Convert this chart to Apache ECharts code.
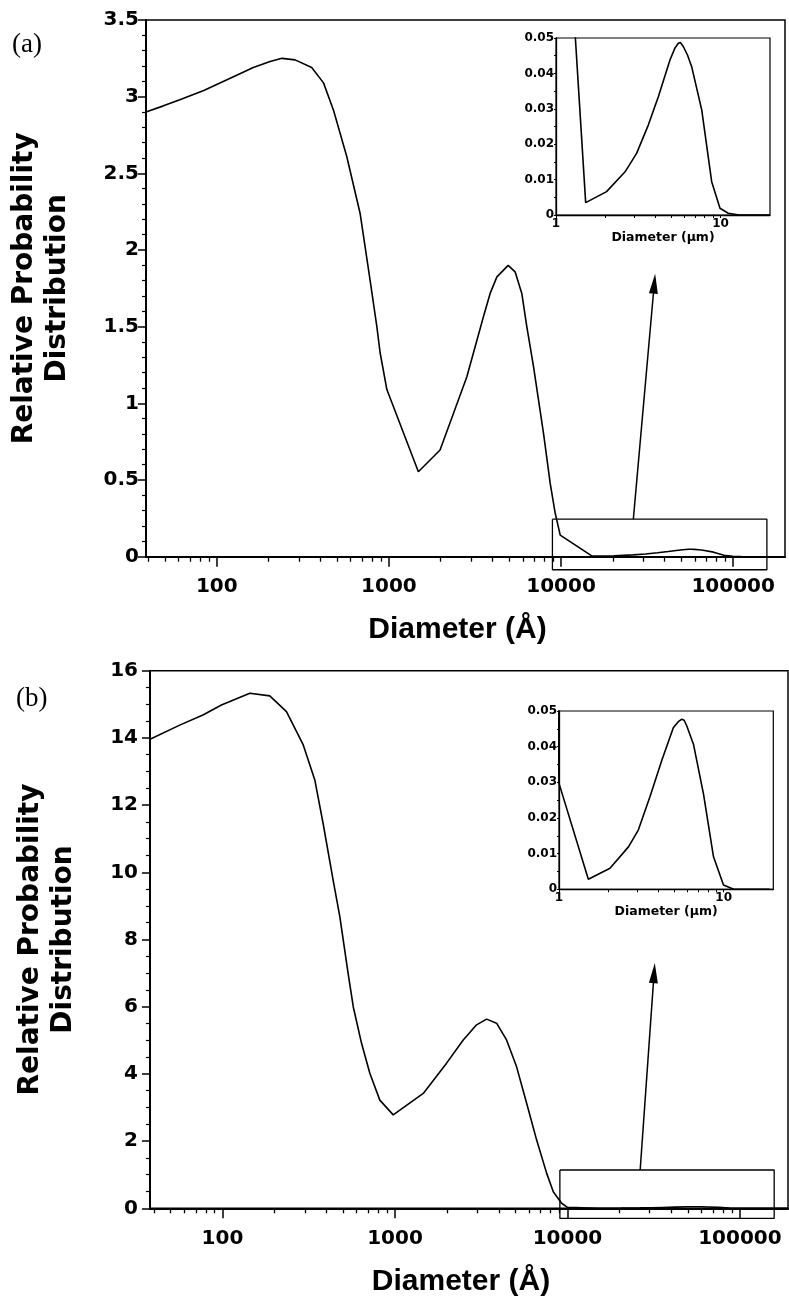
<!DOCTYPE html>
<html><head><meta charset="utf-8">
<script src="https://cdn.jsdelivr.net/npm/echarts@6/dist/echarts.min.js"></script>
<style>html,body{margin:0;padding:0;background:#fff}#c{width:789px;height:1305px}</style>
</head><body><div id="c"></div>
<script>
// ---------- Data: panel (a) ----------
const diamA = [38.8, 49, 61, 84, 125, 163, 204, 239, 285, 356, 417, 477, 569, 680, 778, 851, 889, 973,
  1483, 1982, 2373, 2837, 3540, 3873, 4240, 4930, 5410, 5915, 6325, 6920, 7910, 8650, 9250, 9890,
  15150, 20300, 26300, 30900, 36400, 41900, 49300, 52900, 55400, 57000, 59400, 63000, 66800, 76900, 88400, 99300, 111500, 130000, 200000];
const probA = [2.90, 2.94, 2.98, 3.04, 3.13, 3.19, 3.23, 3.25, 3.24, 3.19, 3.09, 2.91, 2.61, 2.24, 1.80, 1.50, 1.33, 1.09,
  0.554, 0.696, 0.935, 1.173, 1.565, 1.717, 1.825, 1.90, 1.858, 1.717, 1.50, 1.239, 0.804, 0.478, 0.283, 0.141,
  0.0035, 0.0066, 0.0122, 0.0174, 0.0254, 0.0334, 0.0438, 0.0472, 0.0485, 0.0487, 0.0476, 0.0452, 0.0419, 0.0297, 0.0094, 0.0019, 0.0005, 0, 0];

// ---------- Data: panel (b) ----------
const diamB = [38, 56.5, 77, 98.6, 144, 188, 235, 294, 343, 383, 438, 479, 535, 573, 640, 715, 817, 977,
  1459, 1992, 2488, 2974, 3398, 3882, 4437, 5073, 5800, 6630, 7580, 8280, 9250, 10000,
  15070, 20400, 26400, 30300, 35700, 42100, 49500, 53000, 55700, 57500, 59700, 65500, 75400, 86700, 99700, 115000, 190000];
const probB = [13.96, 14.38, 14.68, 14.98, 15.33, 15.25, 14.78, 13.79, 12.75, 11.46, 9.77, 8.68, 6.99, 6.0, 4.91, 4.02, 3.22, 2.78,
  3.42, 4.32, 5.01, 5.46, 5.63, 5.51, 5.01, 4.21, 3.125, 2.03, 1.04, 0.49, 0.15, 0.0297,
  0.0028, 0.0059, 0.0119, 0.0166, 0.026, 0.0362, 0.0454, 0.0470, 0.0477, 0.0474, 0.0458, 0.0407, 0.0267, 0.0091, 0.0012, 0, 0];

// ---------- Tick values ----------
const xMajorTicks = [100, 1000, 10000, 100000];
const xMinorTicks = [40, 50, 60, 70, 80, 90, 200, 300, 400, 500, 600, 700, 800, 900,
  2000, 3000, 4000, 5000, 6000, 7000, 8000, 9000, 20000, 30000, 40000, 50000, 60000, 70000, 80000, 90000];
const insetLabelTicks = [1, 10];
const insetMinorTicks = [2, 3, 4, 5, 6, 7, 8, 9];

// axis ranges
const xRangeA = [38.8, 200000];
const xRangeB = [38, 190000];
const insetRange = [1, 20];

// annotation boxes and arrows (Å, value)
const boxA = {x: [8910, 157000], y: [-0.085, 0.245]};
const arrowA = {from: [26300, 0.245], to: [34800, 1.78]};
const boxB = {x: [9040, 158000], y: [-0.30, 1.14]};
const arrowB = {from: [26400, 1.14], to: [31800, 7.0]};

const lg = Math.log10;
const BLACK = '#000';
const SANS = 'DejaVu Sans';

function mainX(grid, range) {
  return [{
    type: 'value', gridIndex: grid, position: 'bottom', min: lg(range[0]), max: lg(range[1]),
    axisLine: {show: true, lineStyle: {color: BLACK, width: 2}},
    axisTick: {show: true, length: 10, inside: false, customValues: xMajorTicks.map(lg), lineStyle: {color: BLACK, width: 1.5}},
    axisLabel: {show: true, customValues: xMajorTicks.map(lg), formatter: v => String(Math.round(Math.pow(10, v))),
      color: BLACK, fontFamily: SANS, fontWeight: 'bold', fontSize: 20, margin: 20},
    splitLine: {show: false},
    name: 'Diameter (Å)', nameLocation: 'middle', nameGap: 58,
    nameTextStyle: {color: BLACK, fontFamily: 'Liberation Sans', fontWeight: 'bold', fontSize: 30, padding: [0, 16, 0, 0]}
  }, {
    type: 'value', gridIndex: grid, position: 'bottom', min: lg(range[0]), max: lg(range[1]),
    axisLine: {show: false},
    axisTick: {show: true, length: 5, inside: false, customValues: xMinorTicks.map(lg), lineStyle: {color: BLACK, width: 1.3}},
    axisLabel: {show: false}, splitLine: {show: false}
  }];
}
function insetX(grid) {
  return {
    type: 'value', gridIndex: grid, position: 'bottom', min: lg(insetRange[0]), max: lg(insetRange[1]),
    axisLine: {show: true, lineStyle: {color: BLACK, width: 1.3}},
    axisTick: {show: true, length: 3, customValues: insetMinorTicks.concat(insetLabelTicks).map(lg), lineStyle: {color: BLACK, width: 1}},
    axisLabel: {show: true, customValues: insetLabelTicks.map(lg), formatter: v => String(Math.round(Math.pow(10, v))),
      color: BLACK, fontFamily: SANS, fontWeight: 'bold', fontSize: 12, margin: 3},
    splitLine: {show: false},
    name: 'Diameter (µm)', nameLocation: 'middle', nameGap: 15,
    nameTextStyle: {color: BLACK, fontFamily: SANS, fontWeight: 'bold', fontSize: 12.5}
  };
}
function mainY(grid, max, interval, minorSplit, margin, gap) {
  return {
    type: 'value', gridIndex: grid, min: 0, max: max, interval: interval,
    axisLine: {show: true, lineStyle: {color: BLACK, width: 2}},
    axisTick: {show: true, length: 8, lineStyle: {color: BLACK, width: 1.5}},
    minorTick: {show: true, splitNumber: minorSplit, length: 4, lineStyle: {color: BLACK, width: 1.2}},
    axisLabel: {color: BLACK, fontFamily: SANS, fontWeight: 'bold', fontSize: 20, margin: margin},
    splitLine: {show: false}, minorSplitLine: {show: false},
    name: 'Relative Probability\nDistribution', nameLocation: 'middle', nameRotate: 90, nameGap: gap,
    nameTextStyle: {color: BLACK, fontFamily: SANS, fontWeight: 'bold', fontSize: 28, lineHeight: 33}
  };
}
function insetY(grid) {
  return {
    type: 'value', gridIndex: grid, min: 0, max: 0.05, interval: 0.01,
    axisLine: {show: true, lineStyle: {color: BLACK, width: 1.3}},
    axisTick: {show: true, length: 2, lineStyle: {color: BLACK, width: 1}},
    minorTick: {show: true, splitNumber: 2, length: 2, lineStyle: {color: BLACK, width: 1}},
    axisLabel: {color: BLACK, fontFamily: SANS, fontWeight: 'bold', fontSize: 12, margin: 2,
      formatter: v => String(+v.toFixed(2))},
    splitLine: {show: false}, minorSplitLine: {show: false}
  };
}
function curve(x, y, xi, yi, xs, ys, scale) {
  return {
    type: 'line', xAxisIndex: xi, yAxisIndex: yi, symbol: 'none', clip: true, z: 5,
    lineStyle: {color: BLACK, width: 1.6}, silent: true,
    data: xs.map((d, i) => [lg(d / scale), ys[i]])
  };
}
function boxSeries(xi, yi, box, arrow) {
  const x0 = lg(box.x[0]), x1 = lg(box.x[1]), y0 = box.y[0], y1 = box.y[1];
  return {
    type: 'line', xAxisIndex: xi, yAxisIndex: yi, symbol: 'none', clip: false, z: 6, silent: true,
    lineStyle: {color: BLACK, width: 1.3},
    data: [[x0, y1], [x1, y1], [x1, y0], [x0, y0], [x0, y1]],
    markLine: {
      silent: true, symbol: ['none', 'triangle'], symbolSize: [9, 20], animation: false,
      lineStyle: {color: BLACK, width: 1.5, type: 'solid'}, label: {show: false},
      emphasis: {disabled: true},
      data: [[{coord: [lg(arrow.from[0]), arrow.from[1]]}, {coord: [lg(arrow.to[0]), arrow.to[1]]}]]
    }
  };
}

const xA = mainX(0, xRangeA), xB = mainX(2, xRangeB);
const option = {
  animation: false,
  backgroundColor: '#fff',
  grid: [
    {left: 146, top: 20, width: 639, height: 536.7, show: true, borderColor: BLACK, borderWidth: 1.5, backgroundColor: 'transparent', outerBoundsMode: 'none'},
    {left: 556, top: 38, width: 214, height: 177, show: true, borderColor: BLACK, borderWidth: 1.2, backgroundColor: 'transparent', outerBoundsMode: 'none'},
    {left: 150, top: 670.7, width: 638, height: 537.6, show: true, borderColor: BLACK, borderWidth: 1.5, backgroundColor: 'transparent', outerBoundsMode: 'none'},
    {left: 559, top: 711, width: 214.3, height: 178.3, show: true, borderColor: BLACK, borderWidth: 1.2, backgroundColor: 'transparent', outerBoundsMode: 'none'}
  ],
  xAxis: [xA[0], xA[1], insetX(1), xB[0], xB[1], insetX(3)],
  yAxis: [mainY(0, 3.5, 0.5, 5, 7, 72), insetY(1), mainY(2, 16, 2, 4, 12, 70), insetY(3)],
  series: [
    curve(0, 0, 0, 0, diamA, probA, 1),
    curve(0, 0, 2, 1, diamA, probA, 10000),
    boxSeries(0, 0, boxA, arrowA),
    curve(0, 0, 3, 2, diamB, probB, 1),
    curve(0, 0, 5, 3, diamB, probB, 10000),
    boxSeries(3, 2, boxB, arrowB)
  ],
  graphic: [
    {type: 'text', left: 12, top: 31, style: {text: '(a)', fill: BLACK, font: '27px "Liberation Serif"'}},
    {type: 'text', left: 16, top: 685, style: {text: '(b)', fill: BLACK, font: '27px "Liberation Serif"'}}
  ]
};
const chart = echarts.init(document.getElementById('c'), null, {renderer: 'canvas'});
chart.setOption(option);
</script></body></html>
